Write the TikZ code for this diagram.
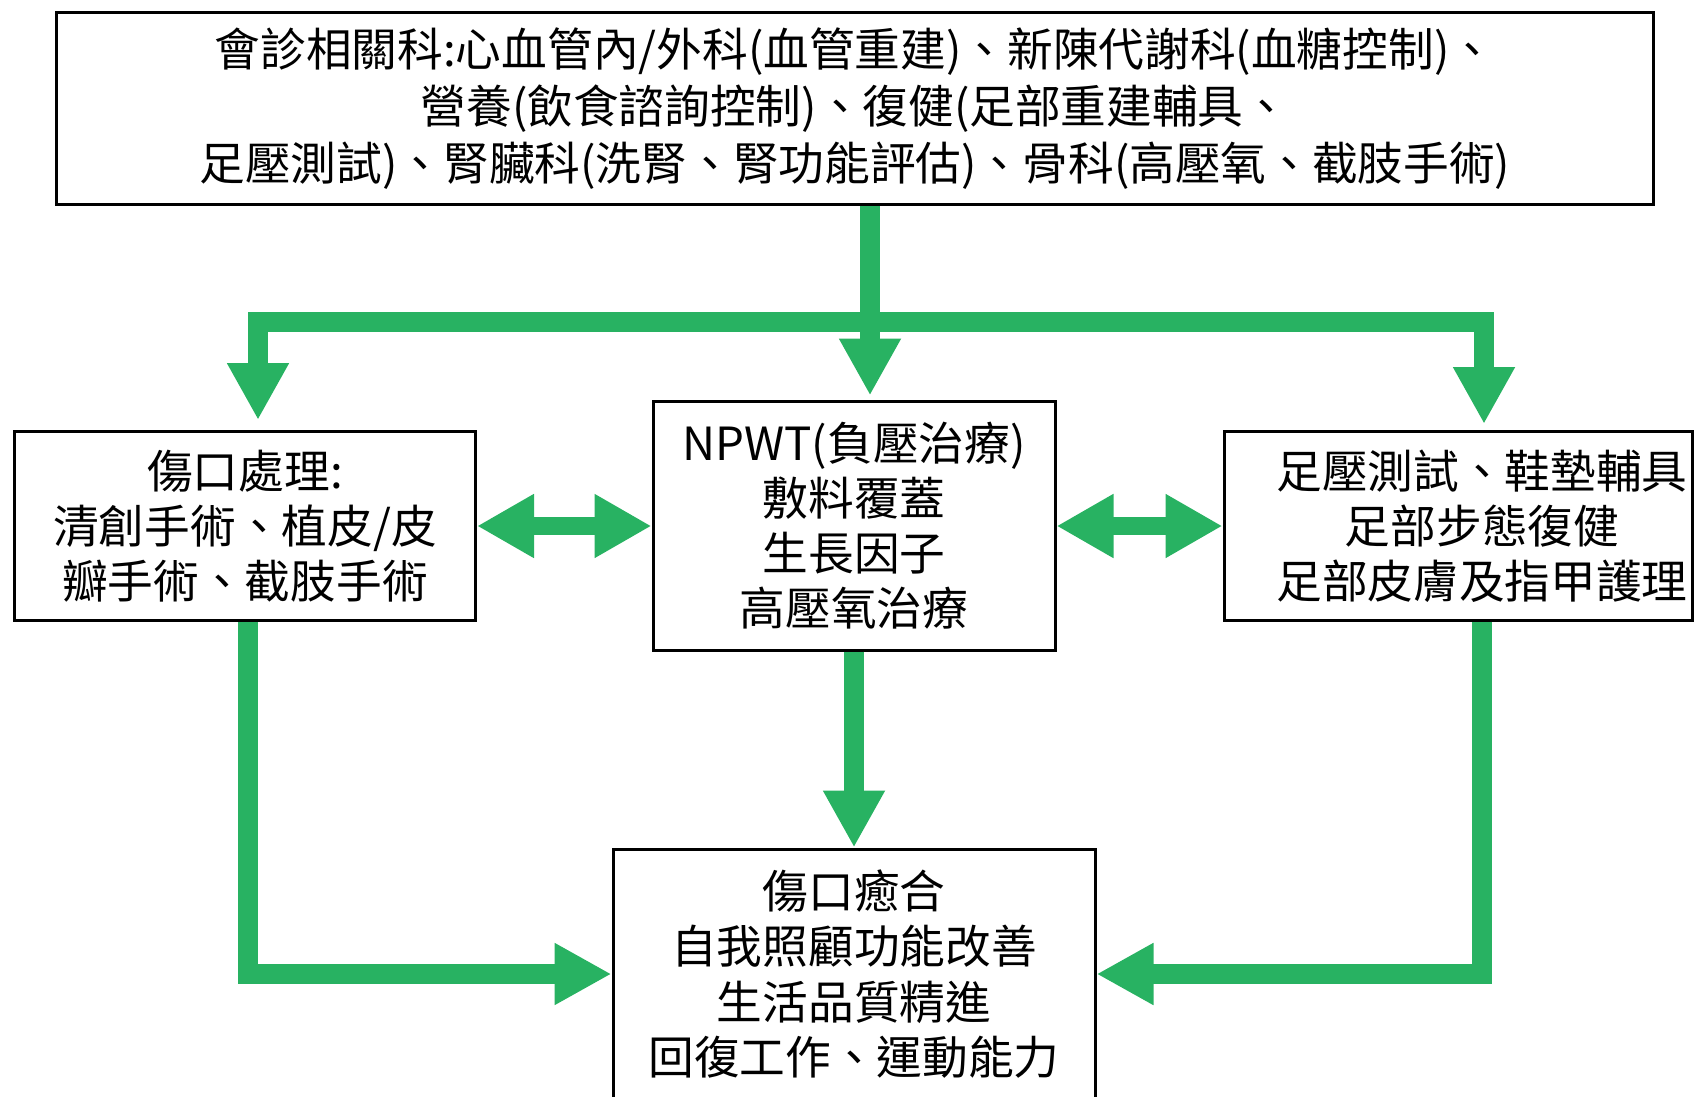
\documentclass[tikz,border=0pt]{standalone}
\usepackage{fontspec}
\setmainfont{Noto Sans CJK TC}
\usepackage{tikz}
\usetikzlibrary{arrows.meta}
\usetikzlibrary{calc, positioning}
\definecolor{GREEN}{RGB}{40,178,98}

\tikzset{
  box/.style={draw, line width=0.3mm, fill=white, align=center,
    font=\fontsize{13pt}{15.7pt}\selectfont},
  flow/.style={draw=GREEN, line width=2mm,
    -{Triangle[length=5.7mm,width=5.8mm]}},
  flowboth/.style={draw=GREEN, line width=1.8mm,
    {Triangle[length=5.7mm,width=6mm]}-{Triangle[length=5.7mm,width=6mm]}}
}

\begin{document}
\begin{tikzpicture}
\useasboundingbox (0,0) rectangle (17.06,10.96);

\node[box, minimum width=15.97cm, minimum height=1.92cm,
  font=\fontsize{13pt}{16.2pt}\selectfont] (consult) at (8.55,9.87)
{會診相關科:心血管內/外科(血管重建)、新陳代謝科(血糖控制)、\\
營養(飲食諮詢控制)、復健(足部重建輔具、\\
足壓測試)、腎臟科(洗腎、腎功能評估)、骨科(高壓氧、截肢手術)};

\node[box, minimum width=4.61cm, minimum height=1.89cm] (wound) at (2.45,5.70)
{傷口處理:\\ 清創手術、植皮/皮\\ 瓣手術、截肢手術};
\node[box, minimum width=4.02cm, minimum height=2.49cm] (npwt) at (8.54,5.705)
{NPWT(負壓治療)\\ 敷料覆蓋\\ 生長因子\\ 高壓氧治療};
\node[box, minimum width=4.68cm, minimum height=1.89cm, inner xsep=0pt] (foot) at (14.58,5.70)
{\hspace*{4.8mm}足壓測試、鞋墊輔具\\ \hspace*{4.8mm}足部步態復健\\ \hspace*{4.8mm}足部皮膚及指甲護理};

\node[box, minimum width=4.82cm, minimum height=2.5cm] (heal) at (8.54,1.22)
{傷口癒合\\ 自我照顧功能改善\\ 生活品質精進\\ 回復工作、運動能力};

% green arrows
\coordinate (split) at (8.70,7.74);
\draw[flow, shorten >=0.4mm] (consult.south -| split) -- (npwt.north -| split);
\draw[flow, shorten >=1mm] (split) -| ([xshift=1.3mm]wound.north);
\draw[flow, shorten >=0.6mm] (split) -| ([xshift=2.6mm]foot.north);

\draw[flowboth] (wound.east) -- (npwt.west |- wound.east);
\draw[flowboth] (npwt.east |- foot.west) -- (foot.west);

\draw[flow] (npwt.south) -- (heal.north);
\draw[flow] ([xshift=0.3mm]wound.south) |- (heal.west);
\draw[flow] ([xshift=2.4mm]foot.south) |- (heal.east);
\end{tikzpicture}
\end{document}
